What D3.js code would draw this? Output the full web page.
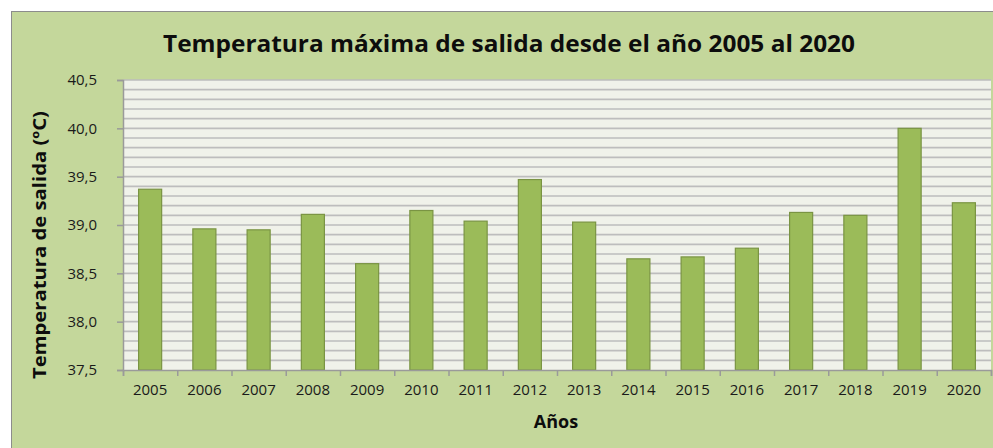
<!DOCTYPE html>
<html>
<head>
<meta charset="utf-8">
<script src="https://cdn.jsdelivr.net/npm/d3@7"></script>
<style>
  body { margin: 0; background: #ffffff; }
  text { font-family: "Open Sans", "DejaVu Sans", sans-serif; }
</style>
</head>
<body>
<div id="chart"></div>
<script>
// Chart data
var years = ["2005", "2006", "2007", "2008", "2009", "2010", "2011", "2012",
             "2013", "2014", "2015", "2016", "2017", "2018", "2019", "2020"];
var maxTemps = [39.37, 38.96, 38.95, 39.11, 38.60, 39.15, 39.04, 39.47,
                39.03, 38.65, 38.67, 38.76, 39.13, 39.10, 40.00, 39.23];
var yTicks = [37.5, 38.0, 38.5, 39.0, 39.5, 40.0, 40.5];

var svgWidth = 993;
var svgHeight = 448;

// Plot area inside the frame
var margin = { top: 80, right: 2, bottom: 78, left: 123 };
var chartWidth = svgWidth - margin.left - margin.right;
var chartHeight = svgHeight - margin.top - margin.bottom;

var svg = d3.select("#chart")
  .append("svg")
  .attr("width", svgWidth)
  .attr("height", svgHeight);

// Outer frame (chart area)
svg.append("rect")
  .attr("x", 11.5)
  .attr("y", 11.5)
  .attr("width", svgWidth)
  .attr("height", svgHeight)
  .attr("fill", "#c4d79b")
  .attr("stroke", "#8c8c8c")
  .attr("stroke-width", 1);

var chartGroup = svg.append("g")
  .attr("transform", `translate(${margin.left}, ${margin.top})`);

// Scales
var xBand = d3.scaleBand()
  .domain(years)
  .range([0, chartWidth])
  .paddingInner(0.575)
  .paddingOuter(0.2875);

var xEdges = d3.scaleLinear()
  .domain([0, years.length])
  .range([0, chartWidth]);

var yLinearScale = d3.scaleLinear()
  .domain([37.5, 40.5])
  .range([chartHeight, 0]);

// Plot background
chartGroup.append("rect")
  .attr("width", chartWidth)
  .attr("height", chartHeight)
  .attr("fill", "#f0f2ea");

// Gridlines every 0.1
var gridVals = d3.range(376, 406).map(d => d / 10);
chartGroup.append("g")
  .selectAll("line")
  .data(gridVals)
  .enter()
  .append("line")
  .attr("x1", 0)
  .attr("x2", chartWidth)
  .attr("y1", d => yLinearScale(d))
  .attr("y2", d => yLinearScale(d))
  .attr("stroke", "#bdbdbd")
  .attr("stroke-width", 1.6);

// Bars
chartGroup.append("g")
  .selectAll("rect")
  .data(maxTemps)
  .enter()
  .append("rect")
  .attr("x", (d, i) => xBand(years[i]))
  .attr("y", d => yLinearScale(d))
  .attr("width", xBand.bandwidth())
  .attr("height", d => chartHeight - yLinearScale(d))
  .attr("fill", "#9bbb59")
  .attr("stroke", "#7a9443")
  .attr("stroke-width", 1.2);

// Left axis
var leftAxis = d3.axisLeft(yLinearScale)
  .tickValues(yTicks)
  .tickSize(6)
  .tickPadding(20)
  .tickFormat(d => d3.format(".1f")(d).replace(".", ","));

var yAxis = chartGroup.append("g").call(leftAxis);
yAxis.select(".domain").attr("stroke", "#9a9a9a").attr("stroke-width", 1.5);
yAxis.selectAll(".tick line").attr("stroke", "#9a9a9a").attr("stroke-width", 1.5);
yAxis.selectAll(".tick text")
  .attr("fill", "#1a1a1a")
  .style("font-size", "15px")
  .style("font-family", "'Open Sans', sans-serif");

// Bottom axis: boundary ticks
var edgeAxis = d3.axisBottom(xEdges)
  .tickValues(d3.range(0, years.length + 1))
  .tickSize(6)
  .tickFormat("");

var xEdgeAxis = chartGroup.append("g")
  .attr("transform", `translate(0, ${chartHeight})`)
  .call(edgeAxis);
xEdgeAxis.select(".domain").attr("stroke", "#9a9a9a").attr("stroke-width", 1.5);
xEdgeAxis.selectAll(".tick line").attr("stroke", "#9a9a9a").attr("stroke-width", 1.5);

// Bottom axis: year labels
var bottomAxis = d3.axisBottom(xBand)
  .tickSize(0)
  .tickPadding(14);

var xAxis = chartGroup.append("g")
  .attr("transform", `translate(0, ${chartHeight})`)
  .call(bottomAxis);
xAxis.select(".domain").remove();
xAxis.selectAll(".tick text")
  .attr("fill", "#1a1a1a")
  .style("font-size", "15px")
  .style("font-family", "'Open Sans', sans-serif");

// Title
svg.append("text")
  .attr("x", 509)
  .attr("y", 52)
  .attr("text-anchor", "middle")
  .attr("textLength", 692)
  .attr("lengthAdjust", "spacingAndGlyphs")
  .style("font-size", "24px")
  .style("font-weight", "bold")
  .attr("fill", "#0d0d0d")
  .text("Temperatura máxima de salida desde el año 2005 al 2020");

// X axis title
svg.append("text")
  .attr("x", 556)
  .attr("y", 428)
  .attr("text-anchor", "middle")
  .style("font-size", "18px")
  .style("font-weight", "bold")
  .attr("fill", "#0d0d0d")
  .text("Años");

// Y axis title
svg.append("text")
  .attr("transform", "translate(46, 245) rotate(-90)")
  .attr("text-anchor", "middle")
  .attr("textLength", 268)
  .attr("lengthAdjust", "spacingAndGlyphs")
  .style("font-size", "17px")
  .style("font-weight", "bold")
  .attr("fill", "#0d0d0d")
  .text("Temperatura de salida  (ºC)");
</script>
</body>
</html>
